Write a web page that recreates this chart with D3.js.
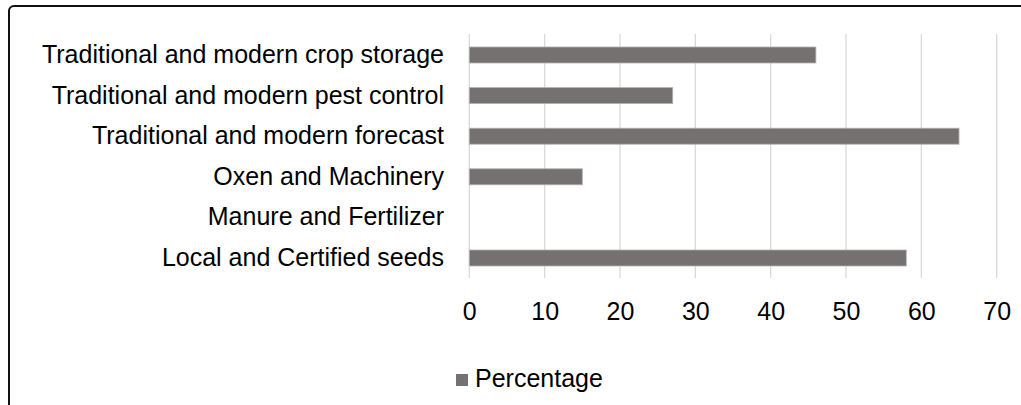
<!DOCTYPE html>
<html>
<head>
<meta charset="utf-8">
<script src="https://cdn.jsdelivr.net/npm/d3@7"></script>
<style>
  html, body { margin: 0; padding: 0; background: #fff; }
  svg { display: block; }
  text { font-family: "Liberation Sans", Arial, sans-serif; fill: #000; }
</style>
</head>
<body>
<svg id="chart" width="1021" height="405"></svg>
<script>
const categories = [
  "Traditional and modern crop storage",
  "Traditional and modern pest control",
  "Traditional and modern forecast",
  "Oxen and Machinery",
  "Manure and Fertilizer",
  "Local and Certified seeds"
];
const values = [46, 27, 65, 15, 0, 58];
const ticks = [0, 10, 20, 30, 40, 50, 60, 70];
const seriesName = "Percentage";

const svg = d3.select("#chart");

// frame
svg.append("rect")
  .attr("x", 9).attr("y", 6)
  .attr("width", 1200).attr("height", 600)
  .attr("rx", 5)
  .attr("fill", "none")
  .attr("stroke", "#111")
  .attr("stroke-width", 2);

const x = d3.scaleLinear().domain([0, 70]).range([469.3, 996.7]);
const y = d3.scaleBand().domain(categories).range([34.7, 278.3]).paddingInner(0.6).paddingOuter(0.3);

// gridlines
svg.append("g").selectAll("line").data(ticks).join("line")
  .attr("x1", d => x(d)).attr("x2", d => x(d))
  .attr("y1", 34).attr("y2", 278)
  .attr("stroke", "#d9d9d9").attr("stroke-width", 1.3);

// bars
svg.append("g").selectAll("rect").data(categories).join("rect")
  .attr("x", x(0))
  .attr("y", (d, i) => y(d) + y.bandwidth() / 2 - 8)
  .attr("width", (d, i) => x(values[i]) - x(0))
  .attr("height", 16)
  .attr("fill", "#767171")
  .attr("stroke", (d, i) => values[i] > 0 ? "#b4b1b1" : "none")
  .attr("stroke-width", 0.8);

// category labels
svg.append("g").selectAll("text").data(categories).join("text")
  .attr("x", 444)
  .attr("y", d => y(d) + y.bandwidth() / 2 + 8)
  .attr("text-anchor", "end")
  .attr("font-size", 25)
  .text(d => d);

// x tick labels
const axis = d3.axisBottom(x).tickValues(ticks).tickSize(0).tickPadding(0);
const ag = svg.append("g").attr("transform", "translate(0,302)").call(axis);
ag.select(".domain").remove();
ag.selectAll("text")
  .attr("font-size", 25)
  .attr("font-family", "Liberation Sans, Arial, sans-serif")
  .attr("fill", "#000");

// legend
svg.append("rect")
  .attr("x", 456).attr("y", 374)
  .attr("width", 12).attr("height", 12)
  .attr("fill", "#767171");
svg.append("text")
  .attr("x", 475).attr("y", 387)
  .attr("font-size", 25)
  .text(seriesName);
</script>
</body>
</html>
